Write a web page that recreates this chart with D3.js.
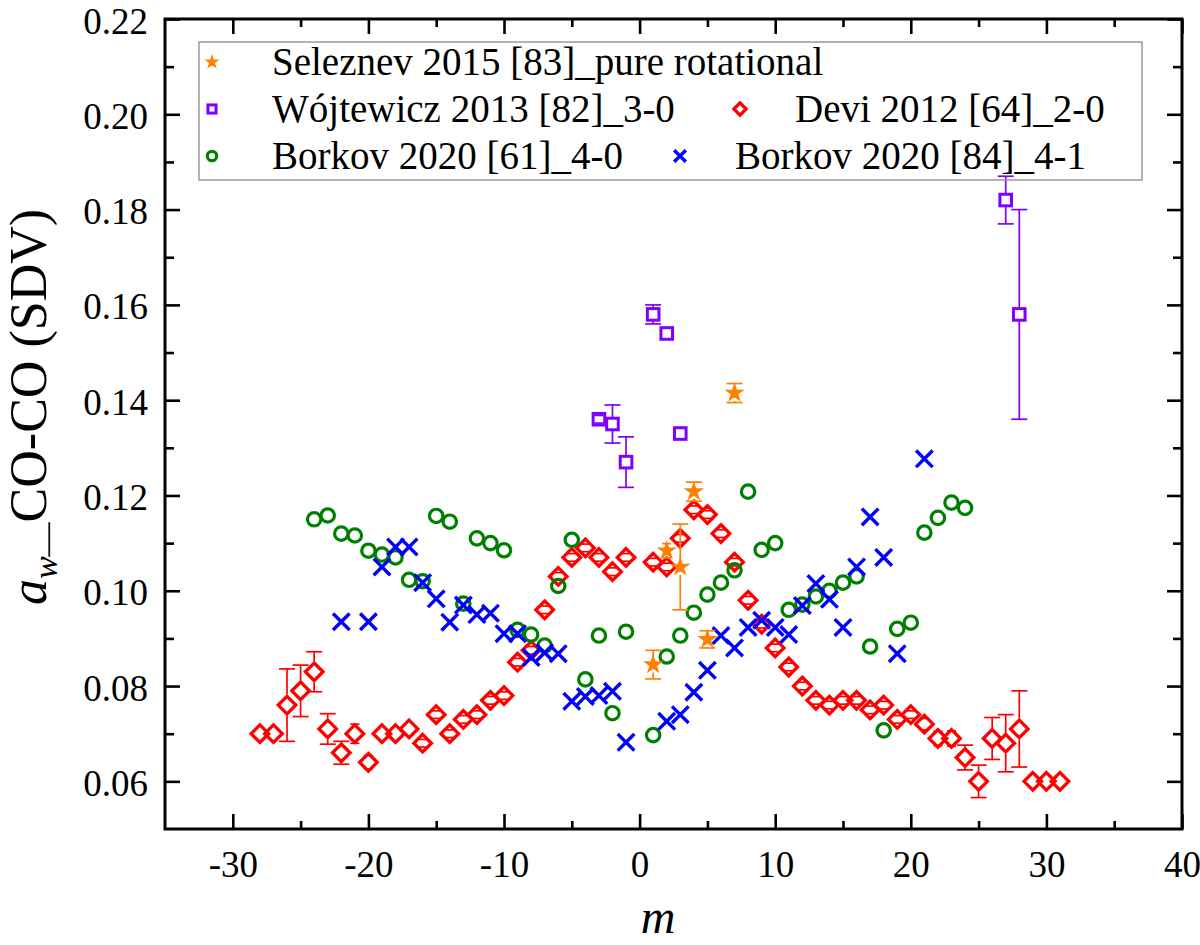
<!DOCTYPE html>
<html><head><meta charset="utf-8">
<script src="https://cdn.jsdelivr.net/npm/d3@7"></script>
<style>body{margin:0;background:#fff}text{font-family:"Liberation Serif","Times New Roman",serif;fill:#000}</style>
</head><body>
<svg id="c" width="1200" height="945"></svg>
<script>
// ---------- data ----------
const xDomain = [-35, 40];
const yDomain = [0.05, 0.22];
const xTicks = [-30, -20, -10, 0, 10, 20, 30, 40];
const xMinor = [-25, -15, -5, 5, 15, 25, 35];
const yTicks = [0.06, 0.08, 0.10, 0.12, 0.14, 0.16, 0.18, 0.20, 0.22];
const yMinor = [0.07, 0.09, 0.11, 0.13, 0.15, 0.17, 0.19, 0.21];

const seriesNames = ["Seleznev 2015 [83]_pure rotational", "Wójtewicz 2013 [82]_3-0", "Devi 2012 [64]_2-0", "Borkov 2020 [61]_4-0", "Borkov 2020 [84]_4-1"];

const selM = [1, 2, 3, 4, 5, 7];
const selA = [0.0845, 0.1084, 0.105, 0.1208, 0.0898, 0.1415];
const selErr = [0.003, 0.0015, 0.009, 0.002, 0.0018, 0.002];

const wojM = [-3, -2, -1, 1, 2, 3, 27, 28];
const wojA = [0.136, 0.135, 0.127, 0.158, 0.154, 0.133, 0.182, 0.158];
const wojErr = [0.0008, 0.004, 0.0053, 0.002, 0, 0, 0.005, 0.022];

const deviM = [-28,-27,-26,-25,-24,-23,-22,-21,-20,-19,-18,-17,-16,-15,-14,-13,-12,-11,-10,-9,-8,-7,-6,-5,-4,-3,-2,-1,
  1,2,3,4,5,6,7,8,9,10,11,12,13,14,15,16,17,18,19,20,21,22,23,24,25,26,27,28,29,30,31];
const deviA = [0.070,0.070,0.076,0.079,0.083,0.071,0.066,0.070,0.064,0.070,0.070,0.071,0.068,0.074,0.070,0.073,0.074,0.077,0.078,0.085,0.0875,0.096,0.103,0.107,0.109,0.107,0.104,0.107,
  0.106,0.105,0.111,0.117,0.116,0.112,0.106,0.098,0.093,0.088,0.084,0.080,0.077,0.076,0.077,0.077,0.075,0.076,0.073,0.074,0.072,0.069,0.069,0.065,0.060,0.069,0.068,0.071,0.060,0.060,0.060];
const deviErr = [0,0,0.0076,0.0054,0.0042,0.0032,0.0024,0.002,0.0014,0,0,0,0.0008,0.0008,0.0008,0.0008,0.0008,0.0008,0.0008,0.0008,0.0008,0.0008,0.0008,0.0008,0.0008,0.0008,0.0008,0.0008,
  0.0008,0.0008,0.0008,0.0008,0.0008,0.0008,0.0008,0.0008,0.0008,0.0008,0.0008,0.0008,0.0008,0.0008,0.0008,0.0008,0.0008,0.0008,0.0008,0.0008,0.0012,0.0015,0.0016,0.0026,0.0034,0.0044,0.006,0.008,0,0,0];

const bork61M = [-24,-23,-22,-21,-20,-19,-18,-17,-16,-15,-14,-13,-12,-11,-10,-9,-8,-7,-6,-5,-4,-3,-2,-1,
  1,2,3,4,5,6,7,8,9,10,11,12,13,14,15,16,17,18,19,20,21,22,23,24];
const bork61A = [0.115,0.1158,0.112,0.1116,0.1084,0.1076,0.107,0.1023,0.102,0.1157,0.1145,0.0973,0.111,0.110,0.1085,0.0918,0.0908,0.0885,0.101,0.1107,0.0814,0.0906,0.0743,0.0914,
  0.0697,0.0862,0.0906,0.0954,0.0992,0.1017,0.1043,0.1208,0.1086,0.110,0.096,0.0971,0.0988,0.100,0.1017,0.103,0.0883,0.0707,0.092,0.0933,0.1122,0.1153,0.1185,0.1174];

const bork84M = [-22,-20,-19,-18,-17,-16,-15,-14,-13,-12,-11,-10,-9,-8,-7,-6,-5,-4,-3,-2,-1,
  2,3,4,5,6,7,8,9,10,11,12,13,14,15,16,17,18,19,21];
const bork84A = [0.0935,0.0935,0.105,0.1092,0.1092,0.1017,0.0983,0.0934,0.097,0.095,0.0953,0.091,0.091,0.086,0.087,0.0868,0.0768,0.0778,0.078,0.0789,0.0682,
  0.0726,0.074,0.0787,0.0833,0.0906,0.088,0.0923,0.0938,0.0923,0.0908,0.0969,0.1015,0.0982,0.0923,0.105,0.1155,0.107,0.0868,0.1277];

// ---------- setup ----------
const svg = d3.select('#c');
const L = 165, R = 1182, T = 19, B = 829;
const x = d3.scaleLinear().domain(xDomain).range([L, R]);
const y = d3.scaleLinear().domain(yDomain).range([B, T]);

const COL = {sel: '#ff8000', woj: '#8000ff', devi: '#ff0000', b61: '#008000', b84: '#0000ff'};

// ---------- axes ----------
function styleAxis(g) {
  g.select('.domain').remove();
  g.selectAll('line').attr('stroke', '#000').attr('stroke-width', 2.6);
  g.selectAll('text').style('font-size', '37px').attr('fill', '#000');
}
const fmtX = d => String(d);
const fmtY = d3.format('.2f');
svg.append('g').attr('transform', `translate(0,${B})`)
  .call(d3.axisBottom(x).tickValues(xTicks).tickSize(-15).tickSizeOuter(0).tickPadding(22).tickFormat(fmtX)).call(styleAxis);
svg.append('g').attr('transform', `translate(0,${B})`)
  .call(d3.axisBottom(x).tickValues(xMinor).tickSize(-8).tickSizeOuter(0).tickFormat('')).call(styleAxis);
svg.append('g').attr('transform', `translate(0,${T})`)
  .call(d3.axisTop(x).tickValues(xTicks).tickSize(-15).tickSizeOuter(0).tickFormat('')).call(styleAxis);
svg.append('g').attr('transform', `translate(0,${T})`)
  .call(d3.axisTop(x).tickValues(xMinor).tickSize(-8).tickSizeOuter(0).tickFormat('')).call(styleAxis);
svg.append('g').attr('transform', `translate(${L},0)`)
  .call(d3.axisLeft(y).tickValues(yTicks).tickSize(-15).tickSizeOuter(0).tickPadding(17).tickFormat(fmtY)).call(styleAxis)
  .selectAll('text').attr('dy', '0.38em');
svg.append('g').attr('transform', `translate(${L},0)`)
  .call(d3.axisLeft(y).tickValues(yMinor).tickSize(-9).tickSizeOuter(0).tickFormat('')).call(styleAxis);
svg.append('g').attr('transform', `translate(${R},0)`)
  .call(d3.axisRight(y).tickValues(yTicks).tickSize(-15).tickSizeOuter(0).tickFormat('')).call(styleAxis);
svg.append('g').attr('transform', `translate(${R},0)`)
  .call(d3.axisRight(y).tickValues(yMinor).tickSize(-9).tickSizeOuter(0).tickFormat('')).call(styleAxis);

svg.append('rect').attr('x', L).attr('y', T).attr('width', R - L).attr('height', B - T)
  .attr('fill', 'none').attr('stroke', '#000').attr('stroke-width', 3);

// ---------- markers ----------
const HS = {star: 8, square: 7, diamond: 10.5, circle: 8.2, x: 8.5};
function drawMarker(g, type, color, k) {
  k = k || 1;
  if (type === 'star') {
    g.append('path').attr('d', d3.symbol(d3.symbolStar, 85 * k * k)()).attr('fill', color).attr('stroke', color).attr('stroke-width', 1.2);
  } else if (type === 'square') {
    const h = 5.8 * k;
    g.append('rect').attr('x', -h).attr('y', -h).attr('width', 2 * h).attr('height', 2 * h)
      .attr('fill', 'none').attr('stroke', color).attr('stroke-width', 3);
  } else if (type === 'diamond') {
    const h = 8.8 * k;
    g.append('path').attr('d', `M0,${-h}L${h},0L0,${h}L${-h},0Z`)
      .attr('fill', 'none').attr('stroke', color).attr('stroke-width', 3.3);
  } else if (type === 'circle') {
    g.append('circle').attr('r', 6.7 * k).attr('fill', 'none').attr('stroke', color).attr('stroke-width', 3.2);
  } else if (type === 'x') {
    const a = 8.3 * k;
    g.append('path').attr('d', `M${-a},${-a}L${a},${a}M${-a},${a}L${a},${-a}`)
      .attr('fill', 'none').attr('stroke', color).attr('stroke-width', 3.4);
  }
}

function drawSeries(ms, vs, errs, type, color) {
  const g = svg.append('g');
  const pts = ms.map((m, i) => ({m, v: vs[i], e: errs ? errs[i] : 0}));
  pts.forEach(p => {
    const mg = g.append('g').attr('transform', `translate(${x(p.m)},${y(p.v)})`);
    drawMarker(mg, type, color, 1);
  });
  // error bars: the line leaves a gap at the symbol, caps are always drawn
  const hs = HS[type];
  pts.filter(p => p.e > 0).forEach(p => {
    const cx = x(p.m), cy = y(p.v), top = y(p.v + p.e), bot = y(p.v - p.e);
    const cw = (cy - top) < hs ? 4.5 : 8;
    const eg = g.append('g').attr('stroke', color).attr('stroke-width', 1.7);
    if (cy - top > hs) {
      eg.append('line').attr('x1', cx).attr('x2', cx).attr('y1', top).attr('y2', cy - hs);
      eg.append('line').attr('x1', cx).attr('x2', cx).attr('y1', cy + hs).attr('y2', bot);
    }
    eg.append('line').attr('x1', cx - cw).attr('x2', cx + cw).attr('y1', top).attr('y2', top);
    eg.append('line').attr('x1', cx - cw).attr('x2', cx + cw).attr('y1', bot).attr('y2', bot);
  });
}

drawSeries(deviM, deviA, deviErr, 'diamond', COL.devi);
drawSeries(bork61M, bork61A, null, 'circle', COL.b61);
drawSeries(bork84M, bork84A, null, 'x', COL.b84);
drawSeries(wojM, wojA, wojErr, 'square', COL.woj);
drawSeries(selM, selA, selErr, 'star', COL.sel);

// ---------- legend ----------
const lg = svg.append('g');
lg.append('rect').attr('x', 199).attr('y', 42).attr('width', 943).attr('height', 138)
  .attr('fill', 'none').attr('stroke', '#999').attr('stroke-width', 1.5);
const legendItems = [
  {name: seriesNames[0], type: 'star', color: COL.sel, mx: 212, tx: 272, cy: 62},
  {name: seriesNames[1], type: 'square', color: COL.woj, mx: 212, tx: 272, cy: 109},
  {name: seriesNames[2], type: 'diamond', color: COL.devi, mx: 740, tx: 795, cy: 109},
  {name: seriesNames[3], type: 'circle', color: COL.b61, mx: 212, tx: 272, cy: 156},
  {name: seriesNames[4], type: 'x', color: COL.b84, mx: 680, tx: 735, cy: 156}
];
legendItems.forEach(it => {
  const mg = lg.append('g').attr('transform', `translate(${it.mx},${it.cy})`);
  drawMarker(mg, it.type, it.color, 0.7);
  lg.append('text').attr('x', it.tx).attr('y', it.cy + 13).style('font-size', '39px').text(it.name);
});

// ---------- titles ----------
const yt = svg.append('text').attr('transform', 'translate(46,407) rotate(-90)')
  .attr('text-anchor', 'middle').style('font-size', '52px');
yt.append('tspan').style('font-style', 'italic').text('a');
yt.append('tspan').style('font-size', '34px').attr('dy', 11)
  .append('tspan').style('font-style', 'italic').text('w');
yt.select('tspan:nth-child(2)').append('tspan').text('—');
yt.append('tspan').attr('dy', -11).text('CO-CO (SDV)');

svg.append('text').attr('x', 658).attr('y', 933).attr('text-anchor', 'middle')
  .style('font-size', '48px').style('font-style', 'italic').text('m');
</script>
</body></html>
